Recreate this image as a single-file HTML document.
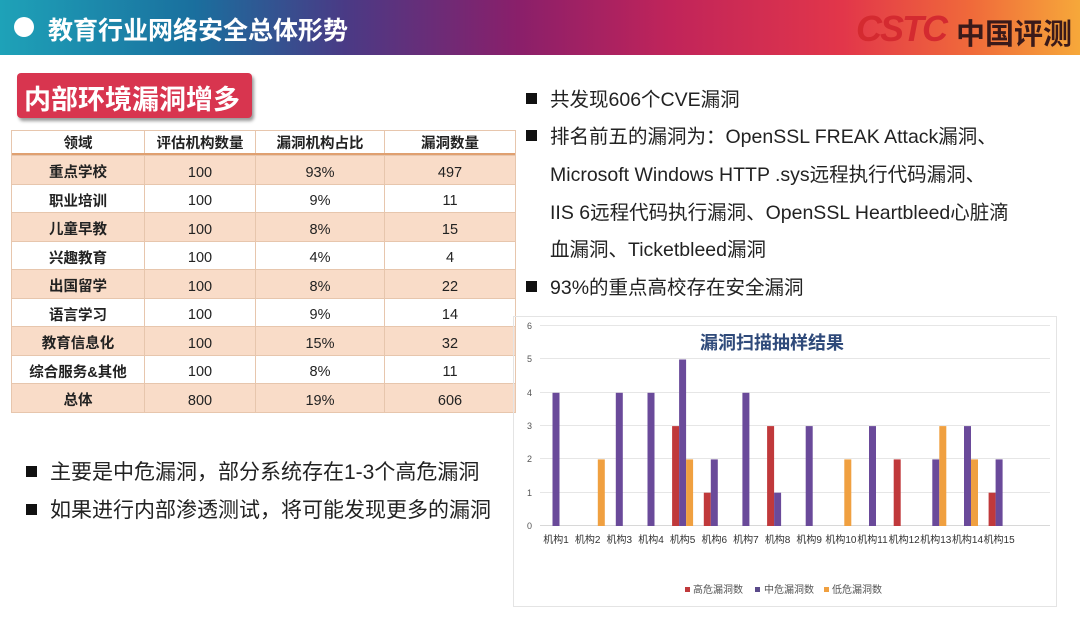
<!DOCTYPE html>
<html><head><meta charset="utf-8"><style>
*{margin:0;padding:0;box-sizing:border-box}
body{width:1080px;height:622px;background:#fff;position:relative;overflow:hidden;font-family:"Liberation Sans","Noto Sans CJK SC",sans-serif;color:#222}
.hdr{position:absolute;left:0;top:0;width:1080px;height:55px;background:linear-gradient(90deg,#1ea2b8 0%,#1a6f9e 18%,#4a3a85 32%,#8a1f6a 48%,#c0245a 62%,#e2364a 78%,#f06a3a 90%,#f6a83a 100%)}
.abs{position:absolute;white-space:nowrap}
.tb{position:absolute;left:11px;top:130px;width:505px;border:1px solid #e7c6ad;font-size:14.5px}
.r{display:flex;height:28.5px;border-top:1px solid #e7c6ad}
.r.h{height:24px;border-top:none;border-bottom:2px solid #e0a070;font-weight:bold}
.r.o{background:#f9dcc8}
.r div{display:flex;align-items:center;justify-content:center;border-left:1px solid #e7c6ad}
.r:not(.h) div:not(:first-child){padding-top:6px}
.r:not(.h) div:first-child{padding-top:4px}
.r div:first-child{border-left:none;width:132px;font-weight:bold}
.r div:nth-child(2){width:111px}
.r div:nth-child(3){width:129px}
.r div:nth-child(4){flex:1}
.b{font-size:19.5px;line-height:20px}
.c{font-size:21px;line-height:21px}
.sq{display:inline-block;width:11px;height:11px;background:#111;margin-right:13px;vertical-align:2px}
</style></head><body>
<div class="hdr"></div>
<div class="abs" style="left:14px;top:17px;width:20px;height:20px;border-radius:50%;background:#fff"></div>
<div class="abs" style="left:48px;top:11px;font-size:25px;font-weight:bold;color:#fff">教育行业网络安全总体形势</div>
<div class="abs" style="left:856px;top:8px;font-size:36px;font-weight:bold;font-style:italic;color:#d42a30;letter-spacing:-2px">CSTC</div>
<div class="abs" style="left:956px;top:11px;font-size:29px;font-weight:bold;color:#3a1a1a">中国评测</div>
<div class="abs" style="left:17px;top:73px;width:235px;height:45px;background:#d8354f;border-radius:4px;box-shadow:2px 3px 3px #999"></div>
<div class="abs" style="left:24px;top:78px;font-size:27px;font-weight:bold;color:#fff">内部环境漏洞增多</div>
<div class="tb">
<div class="r h"><div>领域</div><div>评估机构数量</div><div>漏洞机构占比</div><div>漏洞数量</div></div>
<div class="r o"><div>重点学校</div><div>100</div><div>93%</div><div>497</div></div>
<div class="r"><div>职业培训</div><div>100</div><div>9%</div><div>11</div></div>
<div class="r o"><div>儿童早教</div><div>100</div><div>8%</div><div>15</div></div>
<div class="r"><div>兴趣教育</div><div>100</div><div>4%</div><div>4</div></div>
<div class="r o"><div>出国留学</div><div>100</div><div>8%</div><div>22</div></div>
<div class="r"><div>语言学习</div><div>100</div><div>9%</div><div>14</div></div>
<div class="r o"><div>教育信息化</div><div>100</div><div>15%</div><div>32</div></div>
<div class="r"><div>综合服务&amp;其他</div><div>100</div><div>8%</div><div>11</div></div>
<div class="r o"><div>总体</div><div>800</div><div>19%</div><div>606</div></div>
</div>
<div class="abs b" style="left:526px;top:90px"><span class="sq"></span>共发现606个CVE漏洞</div>
<div class="abs b" style="left:526px;top:127px"><span class="sq"></span>排名前五的漏洞为：OpenSSL FREAK Attack漏洞、</div>
<div class="abs b" style="left:550px;top:165px">Microsoft Windows HTTP .sys远程执行代码漏洞、</div>
<div class="abs b" style="left:550px;top:203px">IIS 6远程代码执行漏洞、OpenSSL Heartbleed心脏滴</div>
<div class="abs b" style="left:550px;top:240px">血漏洞、Ticketbleed漏洞</div>
<div class="abs b" style="left:526px;top:278px"><span class="sq"></span>93%的重点高校存在安全漏洞</div>
<div class="abs c" style="left:26px;top:462px"><span class="sq"></span>主要是中危漏洞，部分系统存在1-3个高危漏洞</div>
<div class="abs c" style="left:26px;top:500px"><span class="sq"></span>如果进行内部渗透测试，将可能发现更多的漏洞</div>
<svg class="abs" style="left:0;top:0" width="1080" height="622" font-family="Liberation Sans,Noto Sans CJK SC,sans-serif">
<rect x="513.5" y="316.5" width="543" height="290" fill="none" stroke="#e4e4e4"/>
<g stroke="#e6e6e6" stroke-width="1">
<line x1="540" x2="1050" y1="325.5" y2="325.5"/><line x1="540" x2="1050" y1="358.5" y2="358.5"/><line x1="540" x2="1050" y1="392.5" y2="392.5"/><line x1="540" x2="1050" y1="425.5" y2="425.5"/><line x1="540" x2="1050" y1="458.5" y2="458.5"/><line x1="540" x2="1050" y1="492.5" y2="492.5"/><line x1="540" x2="1050" y1="525.5" y2="525.5" stroke="#d8d8d8"/>
</g>
<g font-size="9" fill="#555" text-anchor="end">
<text x="532" y="329">6</text><text x="532" y="362">5</text><text x="532" y="396">4</text><text x="532" y="429">3</text><text x="532" y="462">2</text><text x="532" y="496">1</text><text x="532" y="529">0</text>
</g>
<text x="772" y="349" font-size="18" font-weight="bold" fill="#2f4a7a" text-anchor="middle">漏洞扫描抽样结果</text>
<rect x="685" y="587" width="5" height="5" fill="#c0393b"/><text x="693" y="593" font-size="10" fill="#555">高危漏洞数</text>
<rect x="755" y="587" width="5" height="5" fill="#5a4a8a"/><text x="764" y="593" font-size="10" fill="#555">中危漏洞数</text>
<rect x="824" y="587" width="5" height="5" fill="#f0a040"/><text x="832" y="593" font-size="10" fill="#555">低危漏洞数</text>
<g>
<rect x="552.5" y="392.8" width="7" height="133.2" fill="#6a4a9a"/>
<rect x="597.8" y="459.4" width="7" height="66.6" fill="#f0a040"/>
<rect x="615.8" y="392.8" width="7" height="133.2" fill="#6a4a9a"/>
<rect x="647.5" y="392.8" width="7" height="133.2" fill="#6a4a9a"/>
<rect x="672.1" y="426.1" width="7" height="99.9" fill="#c0393b"/>
<rect x="679.1" y="359.5" width="7" height="166.5" fill="#6a4a9a"/>
<rect x="686.1" y="459.4" width="7" height="66.6" fill="#f0a040"/>
<rect x="703.8" y="492.7" width="7" height="33.3" fill="#c0393b"/>
<rect x="710.8" y="459.4" width="7" height="66.6" fill="#6a4a9a"/>
<rect x="742.4" y="392.8" width="7" height="133.2" fill="#6a4a9a"/>
<rect x="767.1" y="426.1" width="7" height="99.9" fill="#c0393b"/>
<rect x="774.1" y="492.7" width="7" height="33.3" fill="#6a4a9a"/>
<rect x="805.7" y="426.1" width="7" height="99.9" fill="#6a4a9a"/>
<rect x="844.3" y="459.4" width="7" height="66.6" fill="#f0a040"/>
<rect x="869.0" y="426.1" width="7" height="99.9" fill="#6a4a9a"/>
<rect x="893.7" y="459.4" width="7" height="66.6" fill="#c0393b"/>
<rect x="932.3" y="459.4" width="7" height="66.6" fill="#6a4a9a"/>
<rect x="939.3" y="426.1" width="7" height="99.9" fill="#f0a040"/>
<rect x="964.0" y="426.1" width="7" height="99.9" fill="#6a4a9a"/>
<rect x="971.0" y="459.4" width="7" height="66.6" fill="#f0a040"/>
<rect x="988.6" y="492.7" width="7" height="33.3" fill="#c0393b"/>
<rect x="995.6" y="459.4" width="7" height="66.6" fill="#6a4a9a"/>
</g>
<g font-size="10" fill="#333" text-anchor="middle">
<text x="556" y="543">机构1</text><text x="587.7" y="543">机构2</text><text x="619.3" y="543">机构3</text><text x="651" y="543">机构4</text><text x="682.6" y="543">机构5</text><text x="714.3" y="543">机构6</text><text x="745.9" y="543">机构7</text><text x="777.6" y="543">机构8</text><text x="809.2" y="543">机构9</text><text x="840.9" y="543">机构10</text><text x="872.5" y="543">机构11</text><text x="904.2" y="543">机构12</text><text x="935.8" y="543">机构13</text><text x="967.5" y="543">机构14</text><text x="999.1" y="543">机构15</text>
</g>
</svg>
</body></html>
